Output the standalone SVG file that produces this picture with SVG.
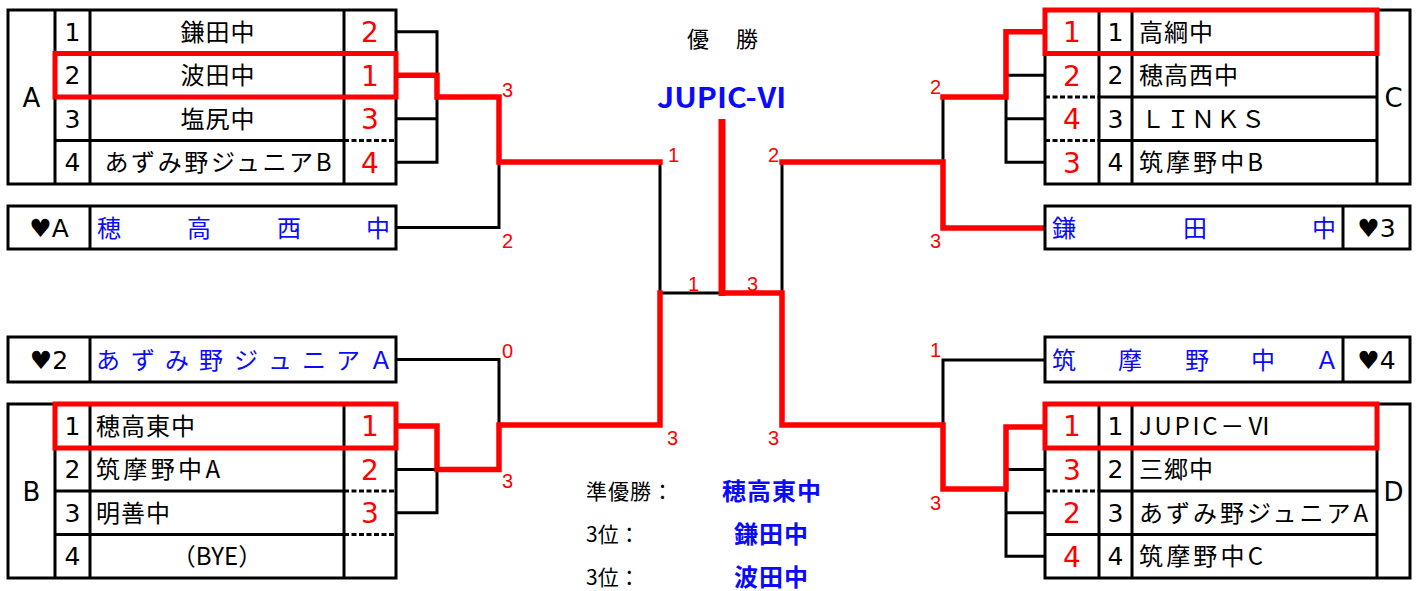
<svg xmlns="http://www.w3.org/2000/svg" width="1417" height="591" viewBox="0 0 1417 591">
<style>
.ln{fill:none;stroke:#000;stroke-width:3}
.ds{fill:none;stroke:#000;stroke-width:3;stroke-dasharray:5 2.5}
.rd{fill:none;stroke:#ff0000;stroke-width:5.5;stroke-linejoin:miter;stroke-linecap:square}
.rb{fill:none;stroke:#ff0000;stroke-width:5}
.t{font-family:'Noto Sans CJK JP','Noto Sans CJK SC',sans-serif;font-size:24px;fill:#000}
.d{font-family:'DejaVu Sans',sans-serif;font-size:25px;fill:#000;text-anchor:middle}
.m{text-anchor:middle}
.ls{letter-spacing:1px}
.r{font-family:'DejaVu Sans',sans-serif;font-size:28px;fill:#ff0000;text-anchor:middle}
.bl{fill:#0a0aff}
.g{font-family:'DejaVu Sans',sans-serif;font-size:26px;fill:#000;text-anchor:middle}
.h{font-family:'DejaVu Sans',sans-serif;font-size:25px;fill:#000;text-anchor:middle}
.s{font-family:'Liberation Sans',sans-serif;font-size:20px;fill:#ff0000}
</style>
<rect width="1417" height="591" fill="#fff"/>

<g id="connectors">
  <path class="ln" d="M396,31.75H437V162.25H396M396,118.75H437"/>
  <path class="ln" d="M396,227.5H499V162"/>
  <path class="ln" d="M660,162V293H722"/>
  <path class="ln" d="M1045,75.25H1006V162.25H1045M1045,118.75H1006"/>
  <path class="ln" d="M943,97V162"/>
  <path class="ln" d="M782,162V293"/>
  <path class="ln" d="M396,359.5H499V425"/>
  <path class="ln" d="M396,469.5H437V512.75H396"/>
  <path class="ln" d="M1045,360H943V425"/>
  <path class="ln" d="M1045,469.5H1006V556.25H1045M1045,512.75H1006"/>
  <path class="rd" d="M398,75.25H437V97H499V162H660"/>
  <path class="rd" d="M398,426H437V469.5H499V425H660V293"/>
  <path class="rd" d="M1043,31.75H1006V97H943"/>
  <path class="rd" d="M782,162H943V228H1043"/>
  <path class="rd" d="M1043,427H1006V489H943V425H782V293H722"/>
  <path d="M722,119V296" fill="none" stroke="#ff0000" stroke-width="7"/>
  <text class="s" x="502" y="97">3</text>
  <text class="s" x="502" y="248">2</text>
  <text class="s" x="668" y="162">1</text>
  <text class="s" x="768" y="162">2</text>
  <text class="s" x="688" y="291">1</text>
  <text class="s" x="747" y="291">3</text>
  <text class="s" x="930" y="94">2</text>
  <text class="s" x="930" y="248">3</text>
  <text class="s" x="502" y="358">0</text>
  <text class="s" x="502" y="488">3</text>
  <text class="s" x="667" y="445">3</text>
  <text class="s" x="768" y="445">3</text>
  <text class="s" x="930" y="357">1</text>
  <text class="s" x="930" y="510">3</text>
</g>

<g id="title">
  <text class="t" style="font-size:22px" x="687" y="47">優</text>
  <text class="t" style="font-size:22px" x="736" y="47">勝</text>
  <text class="t bl m" style="font-size:28px;font-weight:bold" x="722" y="108" textLength="130" lengthAdjust="spacingAndGlyphs">JUPIC-Ⅵ</text>
</g>

<g id="node-A">
  <rect class="ln" x="8" y="10" width="388" height="174"/>
  <path class="ln" d="M55,10V184M90,10V184M344,10V184M55,53.5H396M55,97H396M55,140.5H344"/>
  <path class="ds" d="M344,140.5H396"/>
  <text class="g" x="31.5" y="106.5">A</text>
  <text class="d" x="72.5" y="40.5">1</text>
  <text class="d" x="72.5" y="84">2</text>
  <text class="d" x="72.5" y="127.5">3</text>
  <text class="d" x="72.5" y="171">4</text>
  <text class="t m ls" x="218" y="40.5">鎌田中</text>
  <text class="t m ls" x="218" y="84">波田中</text>
  <text class="t m ls" x="218" y="127.5">塩尻中</text>
  <text class="t m" x="218" y="171" textLength="227" lengthAdjust="spacing">あずみ野ジュニアB</text>
  <text class="r" x="370" y="42">2</text>
  <text class="r" x="370" y="85.5">1</text>
  <text class="r" x="370" y="129">3</text>
  <text class="r" x="370" y="172.5">4</text>
  <rect class="rb" x="55" y="53.5" width="341" height="43.5"/>
</g>

<g id="node-heartA">
  <rect class="ln" x="8" y="206" width="388" height="43"/>
  <path class="ln" d="M90,206V249"/>
  <text class="h" x="49" y="237">♥A</text>
  <text class="t bl" x="97 187 277 366" y="236.5">穂高西中</text>
</g>

<g id="node-heart2">
  <rect class="ln" x="8" y="337" width="388" height="45"/>
  <path class="ln" d="M90,337V382"/>
  <text class="h" x="49" y="369">♥2</text>
  <text class="t bl" x="96 131 165 199 234 268 302 336 369" y="368.5">あずみ野ジュニアＡ</text>
</g>

<g id="node-B">
  <rect class="ln" x="8" y="404" width="388" height="174"/>
  <path class="ln" d="M55,404V578M90,404V578M344,404V578M55,448H396M55,491H344M55,534.5H344"/>
  <path class="ds" d="M344,491H396M344,534.5H396"/>
  <text class="g" x="31.5" y="500.5">B</text>
  <text class="d" x="72.5" y="434.8">1</text>
  <text class="d" x="72.5" y="478.3">2</text>
  <text class="d" x="72.5" y="521.5">3</text>
  <text class="d" x="72.5" y="565">4</text>
  <text class="t ls" x="96" y="434.8">穂高東中</text>
  <text class="t" x="96" y="478.3" textLength="124" lengthAdjust="spacing">筑摩野中A</text>
  <text class="t ls" x="96" y="521.5">明善中</text>
  <text class="t m" x="217" y="565">（BYE）</text>
  <text class="r" x="370" y="436.3">1</text>
  <text class="r" x="370" y="479.8">2</text>
  <text class="r" x="370" y="523">3</text>
  <rect class="rb" x="55" y="404" width="341" height="44"/>
</g>

<g id="node-C">
  <rect class="ln" x="1045" y="10" width="365" height="174"/>
  <path class="ln" d="M1099,10V184M1132,10V184M1377,10V184M1045,53.5H1377M1099,97H1377M1099,140.5H1377"/>
  <path class="ds" d="M1045,97H1099M1045,140.5H1099"/>
  <text class="g" x="1393.5" y="106.5">C</text>
  <text class="r" x="1072" y="42">1</text>
  <text class="r" x="1072" y="85.5">2</text>
  <text class="r" x="1072" y="129">4</text>
  <text class="r" x="1072" y="172.5">3</text>
  <text class="d" x="1115.5" y="40.5">1</text>
  <text class="d" x="1115.5" y="84">2</text>
  <text class="d" x="1115.5" y="127.5">3</text>
  <text class="d" x="1115.5" y="171">4</text>
  <text class="t ls" x="1139" y="40.5">高綱中</text>
  <text class="t ls" x="1139" y="84">穂高西中</text>
  <text class="t ls" x="1141" y="127.5">ＬＩＮＫＳ</text>
  <text class="t" x="1139" y="171" textLength="124" lengthAdjust="spacing">筑摩野中B</text>
  <rect class="rb" x="1045" y="10" width="332" height="43.5"/>
</g>

<g id="node-heart3">
  <rect class="ln" x="1045" y="206" width="365" height="43"/>
  <path class="ln" d="M1343,206V249"/>
  <text class="t bl" x="1052 1183 1312" y="236.5">鎌田中</text>
  <text class="h" x="1376.5" y="237">♥3</text>
</g>

<g id="node-heart4">
  <rect class="ln" x="1045" y="337" width="365" height="45"/>
  <path class="ln" d="M1343,337V382"/>
  <text class="t bl" x="1052 1118 1185 1251 1315" y="368.5">筑摩野中Ａ</text>
  <text class="h" x="1376.5" y="369">♥4</text>
</g>

<g id="node-D">
  <rect class="ln" x="1045" y="404" width="365" height="174"/>
  <path class="ln" d="M1099,404V578M1132,404V578M1377,404V578M1045,448H1377M1099,491H1377M1045,534.5H1377"/>
  <path class="ds" d="M1045,491H1099"/>
  <text class="g" x="1393.5" y="500.5">D</text>
  <text class="r" x="1072" y="436.3">1</text>
  <text class="r" x="1072" y="479.8">3</text>
  <text class="r" x="1072" y="523">2</text>
  <text class="r" x="1072" y="566.5">4</text>
  <text class="d" x="1115.5" y="434.8">1</text>
  <text class="d" x="1115.5" y="478.3">2</text>
  <text class="d" x="1115.5" y="521.5">3</text>
  <text class="d" x="1115.5" y="565">4</text>
  <text class="t" x="1139" y="434.8" textLength="132" lengthAdjust="spacing">JUPIC－Ⅵ</text>
  <text class="t ls" x="1139" y="478.3">三郷中</text>
  <text class="t" x="1139" y="521.5" textLength="229" lengthAdjust="spacing">あずみ野ジュニアA</text>
  <text class="t" x="1139" y="565" textLength="124" lengthAdjust="spacing">筑摩野中C</text>
  <rect class="rb" x="1045" y="404" width="332" height="44"/>
</g>

<g id="results">
  <text class="t ls" style="font-size:21px" x="586" y="499">準優勝：</text>
  <text class="t bl ls" style="font-weight:bold" x="722" y="500">穂高東中</text>
  <text class="t" style="font-size:21px" x="586" y="542">3位：</text>
  <text class="t bl ls" style="font-weight:bold" x="734" y="543">鎌田中</text>
  <text class="t" style="font-size:21px" x="586" y="585">3位：</text>
  <text class="t bl ls" style="font-weight:bold" x="734" y="586">波田中</text>
</g>
</svg>
